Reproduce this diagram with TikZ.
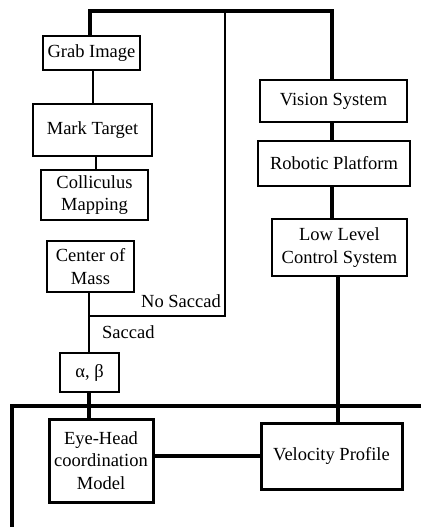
\documentclass[tikz,border=0pt]{standalone}
\usepackage{fontspec}
\setmainfont{Liberation Serif}
\newfontfamily\timesf{Liberation Serif}
\begin{document}
\begin{tikzpicture}[x=1pt,y=-1pt,
  box/.style={draw,line width=1.6pt,inner sep=0pt,align=center,font=\timesf\fontsize{18.5}{22.5}\selectfont},
  bbox/.style={box,line width=3pt},
  thinln/.style={line width=2.2pt},
  thickln/.style={line width=3.6pt},
  lbl/.style={font=\timesf\fontsize{18.5}{22.5}\selectfont,inner sep=0pt}]
\useasboundingbox (0,0) rectangle (421,527);
\node[box,minimum width=97pt,minimum height=34pt] (grab) at (91.5,53) {Grab Image};
\node[box,minimum width=119pt,minimum height=52pt] (mark) at (92.5,130) {Mark Target};
\node[box,minimum width=107pt,minimum height=50pt] (coll) at (94.5,195) {Colliculus\\Mapping};
\node[box,minimum width=87pt,minimum height=51pt] (com) at (90.5,266.5) {Center of\\Mass};
\node[box,minimum width=59pt,minimum height=39pt] (ab) at (89.5,372.5) {α, β};
\node[bbox,minimum width=104pt,minimum height=83pt] (eye) at (101,460.5) {Eye-Head\\coordination\\Model};
\node[bbox,minimum width=141pt,minimum height=66pt] (vel) at (331.5,456) {Velocity Profile};
\node[box,minimum width=147pt,minimum height=42pt] (vis) at (333.5,101) {Vision System};
\node[box,minimum width=152pt,minimum height=45pt] (rob) at (334,163.5) {Robotic Platform};
\node[box,minimum width=135pt,minimum height=57pt] (low) at (339.5,247.5) {Low Level\\Control System};
\node[lbl,anchor=east] (nos) at (221,301) {No Saccad};
\node[lbl,anchor=west] (sac) at (102,332) {Saccad};
\coordinate (tl) at (90,11);
\coordinate (tm) at (225,11);
\coordinate (tr) at (332,11);
\coordinate (jn) at (225,316);
\coordinate (hr) at (421,406);
\coordinate (hl) at (12,406);
\coordinate (bl) at (12,527);
\draw[thickln] (tl |- grab.north) -- (tl) -- (tr) -- (tr |- vis.north);
\draw[thinln] (93,0 |- grab.south) -- (93,0 |- mark.north);
\draw[thinln] (96,0 |- mark.south) -- (96,0 |- coll.north);
\draw[thinln] (tm) -- (jn) -- (jn -| 89,0);
\draw[thinln] (89,0 |- com.south) -- (89,0 |- ab.north);
\draw[thickln] (89,0 |- ab.south) -- (89,0 |- eye.north);
\draw[thickln] (hr) -- (hl) -- (bl);
\draw[thickln] (eye.east |- vel.west) -- (vel.west);
\draw[thickln] (tr |- vis.south) -- (tr |- rob.north);
\draw[thickln] (tr |- rob.south) -- (tr |- low.north);
\draw[thickln] (338,0 |- low.south) -- (338,0 |- vel.north);
\end{tikzpicture}
\end{document}
